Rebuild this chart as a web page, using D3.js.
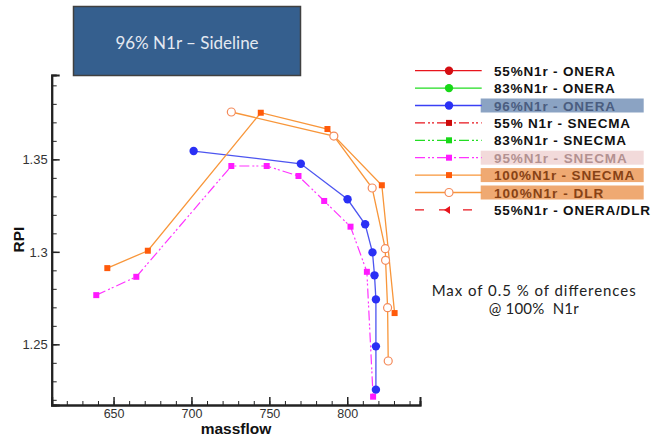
<!DOCTYPE html>
<html><head><meta charset="utf-8">
<script src="https://cdn.jsdelivr.net/npm/d3@7"></script>
<style>body{margin:0;background:#fff;}svg{display:block;}</style>
</head><body>
<script>
// ---- data ----
const onera96X = [701.4, 770.2, 800.2, 811.5, 816.2, 817.5, 818.4, 818.4, 818.4];
const onera96Y = [1.3545, 1.3476, 1.3284, 1.3149, 1.2997, 1.2873, 1.2743, 1.2489, 1.2255];
const snecma95X = [638.9, 664.6, 725.6, 748.3, 768.7, 785.2, 802.1, 812.6, 816.6];
const snecma95Y = [1.2766, 1.2865, 1.3464, 1.3464, 1.3410, 1.3275, 1.3136, 1.2892, 1.2217];
const snecma100X = [646.0, 672.0, 744.5, 787.3, 822.2, 830.4];
const snecma100Y = [1.2912, 1.3006, 1.3752, 1.3664, 1.3360, 1.2669];
const dlr100X = [725.6, 791.4, 816.0, 824.4, 824.6, 825.9, 826.3];
const dlr100Y = [1.3756, 1.3626, 1.3345, 1.3017, 1.2954, 1.2698, 1.2410];
const xTicks = [650, 700, 750, 800];
const yTicks = [1.25, 1.3, 1.35];
const legendLabels = ["55%N1r - ONERA", "83%N1r - ONERA", "96%N1r - ONERA", "55% N1r - SNECMA",
  "83%N1r - SNECMA", "95%N1r - SNECMA", "100%N1r - SNECMA", "100%N1r - DLR", "55%N1r - ONERA/DLR"];
const titleText = "96% N1r \u2013 Sideline";
const noteLines = ["Max of 0.5 % of differences", "@ 100%  N1r"];

const W = 653, H = 441;
const svg = d3.select("body").append("svg").attr("width", W).attr("height", H);

const x = d3.scaleLinear().domain([610.3, 846.7]).range([51.7, 420]);
const y = d3.scaleLinear().domain([1.2172, 1.3956]).range([405, 75]);

// title box
svg.append("rect").attr("x", 73.5).attr("y", 6.5).attr("width", 227).attr("height", 69)
  .attr("fill", "#355f8e").attr("stroke", "#404040").attr("stroke-width", 1.5);
svg.append("text").attr("x", 187).attr("y", 49).attr("text-anchor", "middle")
  .attr("font-family", "Lato, 'Open Sans', sans-serif").attr("font-size", 17)
  .attr("fill", "#e4e9f1").text(titleText);

// axes
const axisFont = "'Liberation Sans', Arial, sans-serif";
const gx = svg.append("g").attr("transform", "translate(0,405)");
gx.call(d3.axisBottom(x).tickValues(d3.range(620, 841, 10)).tickSize(-4).tickFormat(""));
gx.call(g => g.selectAll(".tick line").attr("stroke", "#222").attr("stroke-width", 1));
const gx2 = svg.append("g").attr("transform", "translate(0,405)");
gx2.call(d3.axisBottom(x).tickValues(xTicks).tickSize(-8).tickPadding(4).tickFormat(d => String(d)));
gx2.selectAll(".tick line").attr("stroke", "#222").attr("stroke-width", 1.5);
gx2.selectAll(".tick text").attr("font-family", axisFont).attr("font-size", 12.5).attr("fill", "#333");

const gy = svg.append("g").attr("transform", "translate(51.7,0)");
gy.call(d3.axisLeft(y).tickValues(d3.range(1.22, 1.395, 0.01)).tickSize(-5).tickFormat(""));
gy.selectAll(".tick line").attr("stroke", "#222").attr("stroke-width", 1);
const gy2 = svg.append("g").attr("transform", "translate(51.7,0)");
gy2.call(d3.axisLeft(y).tickValues(yTicks).tickSize(-8).tickPadding(4).tickFormat(d => String(d)));
gy2.selectAll(".tick line").attr("stroke", "#222").attr("stroke-width", 1.5);
gy2.selectAll(".tick text").attr("font-family", axisFont).attr("font-size", 13).attr("fill", "#333");
svg.selectAll(".domain").attr("stroke", "#222").attr("stroke-width", 2);

// axis titles
svg.append("text").attr("x", 236).attr("y", 434).attr("text-anchor", "middle")
  .attr("font-family", axisFont).attr("font-weight", "bold").attr("font-size", 15.5).attr("fill", "#111").text("massflow");
svg.append("text").attr("transform", "translate(24,239.5) rotate(-90)").attr("text-anchor", "middle")
  .attr("font-family", axisFont).attr("font-weight", "bold").attr("font-size", 15.5).attr("fill", "#111").text("RPI");

// series
const line = d3.line().x(d => x(d[0])).y(d => y(d[1]));
const zip = (a, b) => a.map((v, i) => [v, b[i]]);
const dashDD = "10,3,2,2,2,3";

const sOnera = zip(onera96X, onera96Y);
const sS95 = zip(snecma95X, snecma95Y);
const sS100 = zip(snecma100X, snecma100Y);
const sDlr = zip(dlr100X, dlr100Y);

svg.append("path").attr("d", line(sS95)).attr("fill", "none").attr("stroke", "#ff33ff").attr("stroke-width", 1.2).attr("stroke-dasharray", dashDD);
svg.append("path").attr("d", line(sOnera)).attr("fill", "none").attr("stroke", "#4d55f0").attr("stroke-width", 1.3);
svg.append("path").attr("d", line(sS100)).attr("fill", "none").attr("stroke", "#f8963a").attr("stroke-width", 1.3);
svg.append("path").attr("d", line(sDlr)).attr("fill", "none").attr("stroke", "#f8963a").attr("stroke-width", 1.3);

svg.selectAll(".m95").data(sS95).join("rect").attr("x", d => x(d[0]) - 3).attr("y", d => y(d[1]) - 3)
  .attr("width", 6).attr("height", 6).attr("fill", "#ff1aff");
svg.selectAll(".mon").data(sOnera).join("circle").attr("cx", d => x(d[0])).attr("cy", d => y(d[1]))
  .attr("r", 4.2).attr("fill", "#2a30f5");
svg.selectAll(".ms100").data(sS100).join("rect").attr("x", d => x(d[0]) - 3).attr("y", d => y(d[1]) - 3)
  .attr("width", 6).attr("height", 6).attr("fill", "#ff5a0a");
svg.selectAll(".mdlr").data(sDlr).join("circle").attr("cx", d => x(d[0])).attr("cy", d => y(d[1]))
  .attr("r", 4).attr("fill", "#fff").attr("stroke", "#f48a5a").attr("stroke-width", 1.2);

// legend
const legY = i => 70.7 + i * 17.4;
const legStyles = [
  {c: "#e8141c", dash: null, m: "circle", mc: "#d40d12"},
  {c: "#22dd22", dash: null, m: "circle", mc: "#18d818"},
  {c: "#3a40f5", dash: null, m: "circle", mc: "#2a30f5"},
  {c: "#e8141c", dash: dashDD, m: "square", mc: "#cc0a0a"},
  {c: "#22dd22", dash: dashDD, m: "square", mc: "#18d818"},
  {c: "#ff33ff", dash: dashDD, m: "square", mc: "#ff1aff"},
  {c: "#f8963a", dash: null, m: "square", mc: "#ff5a0a"},
  {c: "#f8963a", dash: null, m: "open", mc: "#f48a5a"},
  {c: "#e8141c", dash: "9,15", m: "tri", mc: "#e8141c"}
];
const legEnds = [615, 614.7, 615, 630, 626, 626.7, 634.3, 603.3, 650];
const legHL = {2: {f: "#8ba3c3", t: "#4a5d80"}, 5: {f: "#f2dada", t: "#b39191"}, 6: {f: "#efa972", t: "#874215"}, 7: {f: "#efa972", t: "#874215"}};
const leg = svg.append("g");
legendLabels.forEach((lab, i) => {
  const cy = legY(i), st = legStyles[i];
  if (legHL[i]) leg.append("rect").attr("x", 480.7).attr("y", cy - 7).attr("width", 163).attr("height", 14).attr("fill", legHL[i].f);
  const ln = leg.append("line").attr("x1", 415).attr("x2", 481.7).attr("y1", cy).attr("y2", cy)
    .attr("stroke", st.c).attr("stroke-width", 1.3);
  if (st.dash) ln.attr("stroke-dasharray", st.dash);
  if (st.m === "circle") leg.append("circle").attr("cx", 449).attr("cy", cy).attr("r", 4.2).attr("fill", st.mc);
  else if (st.m === "square") leg.append("rect").attr("x", 446).attr("y", cy - 3).attr("width", 6).attr("height", 6).attr("fill", st.mc);
  else if (st.m === "open") leg.append("circle").attr("cx", 449).attr("cy", cy).attr("r", 4).attr("fill", "#fff").attr("stroke", st.mc).attr("stroke-width", 1.2);
  else if (st.m === "tri") leg.append("path").attr("d", `M${444},${cy} L${450},${cy - 4} L${450},${cy + 4} Z`).attr("fill", st.mc);
  leg.append("text").attr("x", 494).attr("y", cy + 5).attr("font-family", axisFont).attr("font-weight", "bold")
    .attr("font-size", 13.5).attr("fill", legHL[i] ? legHL[i].t : "#111")
    .attr("textLength", legEnds[i] - 494).attr("lengthAdjust", "spacing").text(lab);
});

// note
const noteW = [204, 90];
noteLines.forEach((t, i) => {
  svg.append("text").attr("x", 533.7).attr("y", 295.5 + i * 18).attr("text-anchor", "middle")
    .attr("font-family", "Lato, 'Open Sans', sans-serif").attr("font-size", 15).attr("fill", "#222")
    .style("white-space", "pre").attr("textLength", noteW[i]).attr("lengthAdjust", "spacing").text(t);
});
</script>
</body></html>
